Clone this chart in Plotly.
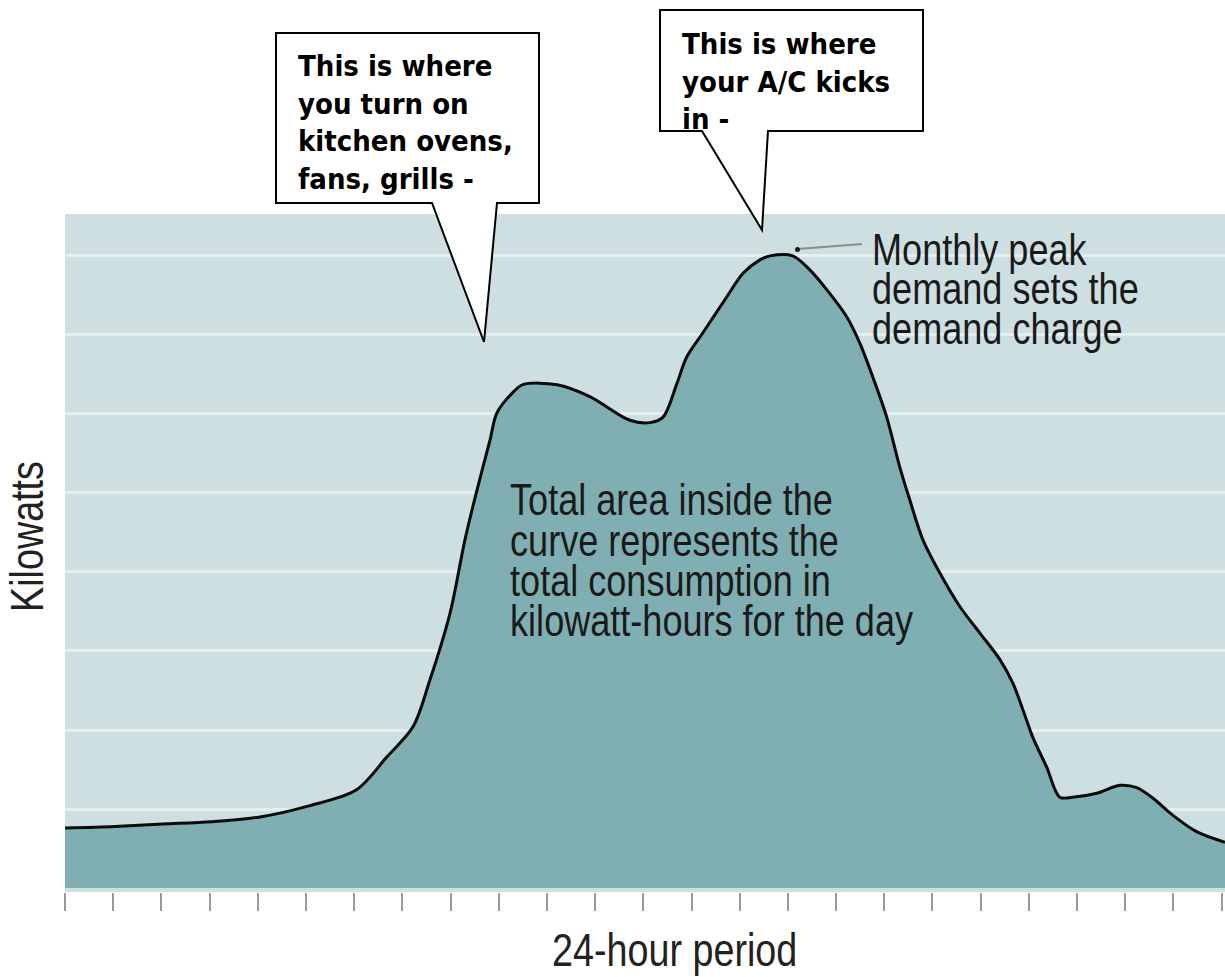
import plotly.graph_objects as go

# ---- data (hour of day, kilowatts in gridline units) ----
hours = [0.00, 1.04, 2.03, 3.05, 4.05, 5.06, 6.04, 6.68, 7.22, 7.57, 7.99, 8.30, 8.55,
         8.82, 8.96, 9.29, 9.50, 10.21, 10.89, 11.72, 12.14, 12.41, 12.70, 12.90, 13.24,
         13.73, 14.07, 14.42, 14.63, 15.10, 15.46, 15.81, 16.22, 16.49, 16.76, 17.05,
         17.32, 17.53, 17.80, 18.15, 18.57, 18.98, 19.40, 19.67, 19.88, 20.08, 20.37,
         20.64, 20.91, 21.41, 21.89, 22.24, 22.57, 22.99, 23.49, 24.07]
kilowatts = [0.76, 0.78, 0.81, 0.84, 0.90, 1.04, 1.24, 1.66, 2.04, 2.63, 3.48, 4.41, 5.04,
             5.67, 6.01, 6.27, 6.37, 6.37, 6.22, 5.92, 5.89, 5.96, 6.39, 6.72, 7.03,
             7.48, 7.78, 7.95, 8.00, 8.00, 7.82, 7.57, 7.23, 6.90, 6.47, 5.96,
             5.33, 4.91, 4.41, 3.99, 3.56, 3.23, 2.89, 2.59, 2.25, 1.91, 1.53,
             1.15, 1.15, 1.20, 1.30, 1.27, 1.14, 0.92, 0.71, 0.58]
hour_ticks = list(range(0, 25))
grid_levels = [1, 2, 3, 4, 5, 6, 7, 8]

x_title = "24-hour period"
y_title = "Kilowatts"
area_note = ["Total area inside the", "curve represents the",
             "total consumption in", "kilowatt-hours for the day"]
peak_note = ["Monthly peak", "demand sets the", "demand charge"]
callout1 = ["This is where", "you turn on", "kitchen ovens,", "fans, grills -"]
callout2 = ["This is where", "your A/C kicks", "in -"]

# ---- layout geometry (pixels) ----
W, H = 1225, 977
L, R, T, B = 65, 1225, 214, 892


def px(x):
    return (x - L) / (R - L)


def py(y):
    return (B - y) / (B - T)


NARROW = "Liberation Sans, Arial, sans-serif"   # horizontally condensed in post_script
BOLD = "DejaVu Sans Condensed, DejaVu Sans, Verdana, sans-serif"

fig = go.Figure()
fig.add_trace(go.Scatter(
    x=hours, y=kilowatts, mode="lines", fill="tozeroy",
    fillcolor="#7fafb2", line=dict(color="#0a0a0a", width=3, shape="spline", smoothing=0.9),
    hoverinfo="skip", showlegend=False))

annotations = []
# axis titles
annotations.append(dict(x=px(550), y=py(950), xref="paper", yref="paper", text=x_title,
                        showarrow=False, font=dict(family=NARROW, size=46, color="#222"),
                        xanchor="left", yanchor="middle"))
annotations.append(dict(x=px(27), y=py(614), xref="paper", yref="paper", text=y_title,
                        showarrow=False, textangle=-90,
                        font=dict(family=NARROW, size=46, color="#222"),
                        xanchor="center", yanchor="bottom"))
# area note lines
for i, line in enumerate(area_note):
    annotations.append(dict(x=px(508), y=py(500 + i * 40), xref="paper", yref="paper",
                            text=line, showarrow=False,
                            font=dict(family=NARROW, size=44, color="#1a1a1a"),
                            xanchor="left", yanchor="middle"))
# peak note lines
for i, line in enumerate(peak_note):
    annotations.append(dict(x=px(870), y=py(249 + i * 39.5), xref="paper", yref="paper",
                            text=line, showarrow=False,
                            font=dict(family=NARROW, size=44, color="#1a1a1a"),
                            xanchor="left", yanchor="middle"))
# callout texts
annotations.append(dict(x=px(296), y=py(47), xref="paper", yref="paper",
                        text="<br>".join(f"<b>{s}</b>" for s in callout1), showarrow=False,
                        align="left", font=dict(family=BOLD, size=29, color="#000"),
                        xanchor="left", yanchor="top"))
annotations.append(dict(x=px(680), y=py(25), xref="paper", yref="paper",
                        text="<br>".join(f"<b>{s}</b>" for s in callout2), showarrow=False,
                        align="left", font=dict(family=BOLD, size=29, color="#000"),
                        xanchor="left", yanchor="top"))


def callout_path(x0, y0, x1, y1, pl, pr, tx, ty):
    pts = [(x0, y0), (x1, y0), (x1, y1), (pr, y1), (tx, ty), (pl, y1), (x0, y1)]
    return "M " + " L ".join(f"{px(a):.5f},{py(b):.5f}" for a, b in pts) + " Z"


shapes = [
    dict(type="path", xref="paper", yref="paper",
         path=callout_path(276, 33, 539, 203, 432, 497, 484, 342),
         fillcolor="white", line=dict(color="#000", width=2), layer="above"),
    dict(type="path", xref="paper", yref="paper",
         path=callout_path(660, 10, 923, 131, 702, 768, 762, 230),
         fillcolor="white", line=dict(color="#000", width=2), layer="above"),
    dict(type="line", xref="paper", yref="paper", x0=px(798), y0=py(249), x1=px(862), y1=py(244),
         line=dict(color="#8c8c8c", width=2), layer="above"),
    dict(type="circle", xref="paper", yref="paper", x0=px(795), y0=py(247), x1=px(800), y1=py(252),
         fillcolor="#1a1a1a", line=dict(width=0), layer="above"),
]

fig.update_layout(
    width=W, height=H,
    margin=dict(l=L, r=W - R, t=T, b=H - B, pad=0),
    paper_bgcolor="white", plot_bgcolor="#cddfe1",
    showlegend=False,
    annotations=annotations, shapes=shapes,
    xaxis=dict(range=[0, 24.07], tickvals=hour_ticks, ticks="outside", ticklen=18,
               tickwidth=2, tickcolor="#9a9a9a", showticklabels=False,
               showgrid=False, zeroline=False, showline=False, fixedrange=True),
    yaxis=dict(range=[-0.05, 8.53], tickvals=grid_levels, showticklabels=False,
               showgrid=True, gridcolor="#e6eff0", gridwidth=3, zeroline=False,
               showline=False, ticks="", fixedrange=True),
)

post = """
document.body.style.margin = '0';
var gd = document.getElementById('{plot_id}');
gd.querySelectorAll('text.annotation-text').forEach(function(t){
  try {
    var ff = t.style.fontFamily || '';
    if (ff.indexOf('Liberation') < 0) return;
    var bb = t.getBBox();
    var x0 = bb.x;
    var old = t.getAttribute('transform') || '';
    t.setAttribute('transform', old + ' translate(' + x0 + ',0) scale(0.82,1) translate(' + (-x0) + ',0)');
  } catch (e) {}
});
"""

fig.write_html("out.html", post_script=post,
               config={"displayModeBar": False, "staticPlot": True})
